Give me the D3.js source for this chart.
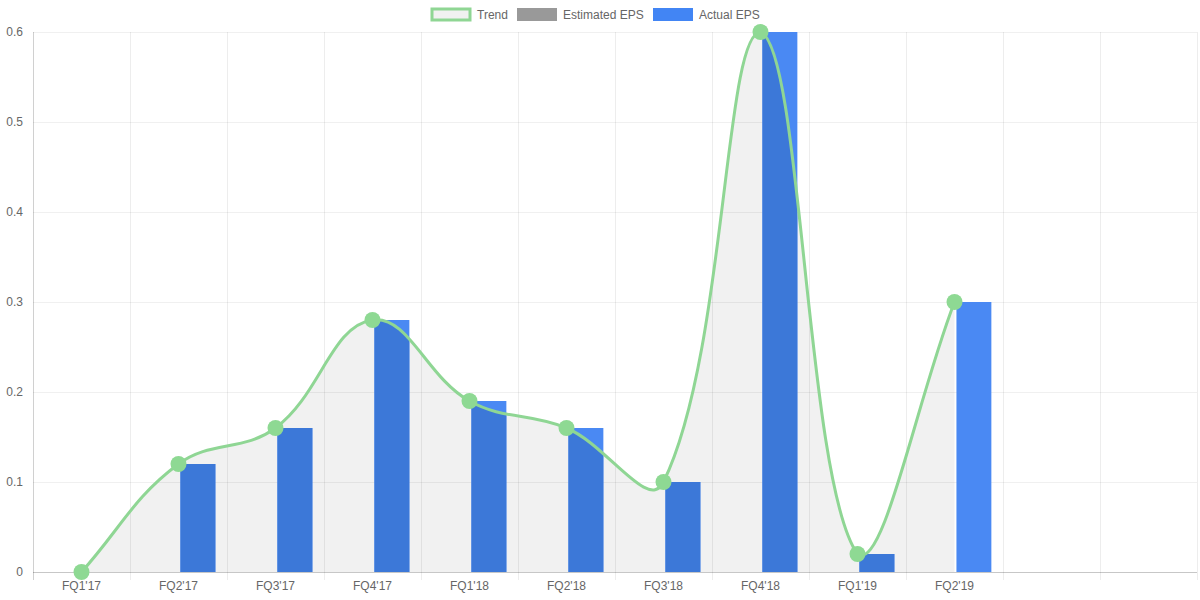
<!DOCTYPE html>
<html><head><meta charset="utf-8">
<script src="https://cdn.jsdelivr.net/npm/d3@7/dist/d3.min.js"></script>
<style>body{margin:0;background:#fff}svg{display:block}text{font-family:"Liberation Sans",Arial,sans-serif}</style>
</head><body><svg id="c" width="1200" height="600"></svg>
<script>
const categories = ["FQ1'17","FQ2'17","FQ3'17","FQ4'17","FQ1'18","FQ2'18","FQ3'18","FQ4'18","FQ1'19","FQ2'19","",""];
const trend = [0, 0.12, 0.16, 0.28, 0.19, 0.16, 0.10, 0.60, 0.02, 0.30];
const estimatedEPS = [null,null,null,null,null,null,null,null,null,null];
const actualEPS = [0, 0.12, 0.16, 0.28, 0.19, 0.16, 0.10, 0.60, 0.02, 0.30];
const yTicks = [0,0.1,0.2,0.3,0.4,0.5,0.6];

const svg = d3.select("#c");
const L=33,R=1197,T=32,B=572;
const x = d3.scaleBand().domain(d3.range(categories.length)).range([L,R]);
const y = d3.scaleLinear().domain([0,0.6]).range([B,T]);
const cx = i => x(i)+x.bandwidth()/2;
const group = d3.scaleBand().domain([0,1]).range([0,x.bandwidth()*0.8]);
const barW = group.bandwidth()*0.9;

// grid
const g = svg.append("g");
g.selectAll(".vg").data(d3.range(categories.length+1)).join("line")
 .attr("x1",i=>L+i*x.step()+0.5).attr("x2",i=>L+i*x.step()+0.5)
 .attr("y1",T).attr("y2",B+8).attr("stroke","rgba(0,0,0,0.07)");
g.selectAll(".hg").data(yTicks).join("line")
 .attr("x1",L).attr("x2",R).attr("y1",d=>y(d)+0.5).attr("y2",d=>y(d)+0.5)
 .attr("stroke",d=>d===0?"rgba(0,0,0,0.22)":"rgba(0,0,0,0.06)");
g.append("line").attr("x1",L+0.5).attr("x2",L+0.5).attr("y1",T).attr("y2",B+8).attr("stroke","rgba(0,0,0,0.12)");

// spline (Chart.js style)
const pts = trend.map((v,i)=>({x:cx(i),y:y(v)}));
const t=0.4;
const cps = pts.map((p,i)=>{
  const prev = pts[i-1]||p, next = pts[i+1]||p;
  const d01=Math.hypot(p.x-prev.x,p.y-prev.y), d12=Math.hypot(next.x-p.x,next.y-p.y);
  let s01=d01/(d01+d12), s12=d12/(d01+d12);
  if(isNaN(s01))s01=0; if(isNaN(s12))s12=0;
  const fa=t*s01, fb=t*s12;
  const c = (v,lo,hi)=>Math.max(lo,Math.min(hi,v));
  return {px:p.x-fa*(next.x-prev.x), py:c(p.y-fa*(next.y-prev.y),T,B), nx:p.x+fb*(next.x-prev.x), ny:c(p.y+fb*(next.y-prev.y),T,B)};
});
const lp = d3.path();
lp.moveTo(pts[0].x,pts[0].y);
for(let i=1;i<pts.length;i++){lp.bezierCurveTo(cps[i-1].nx,cps[i-1].ny,cps[i].px,cps[i].py,pts[i].x,pts[i].y);}
const lineD = lp.toString();
const areaD = lineD + `L${pts[pts.length-1].x},${B}L${pts[0].x},${B}Z`;

svg.append("defs").append("clipPath").attr("id","ac").append("path").attr("d",areaD);
svg.append("path").attr("d",areaD).attr("fill","rgba(0,0,0,0.055)");

// bars
const drawBars=(sel,col)=>sel.selectAll("rect").data(actualEPS.map((v,i)=>({v,i})).filter(d=>d.v)).join("rect")
 .attr("x",d=>x(d.i)+x.bandwidth()*0.1+group(1)+(group.bandwidth()-barW)/2)
 .attr("width",barW).attr("y",d=>y(d.v)).attr("height",d=>B-y(d.v)).attr("fill",col);
drawBars(svg.append("g"),"#4a89f3");
drawBars(svg.append("g").attr("clip-path","url(#ac)"),"#3c78d8");

svg.append("path").attr("d",lineD).attr("fill","none").attr("stroke","#8fd694").attr("stroke-width",3);
svg.selectAll(".pt").data(pts).join("circle").attr("cx",d=>d.x).attr("cy",d=>d.y).attr("r",8).attr("fill","#8ed993");

// axes labels
svg.selectAll(".yl").data(yTicks).join("text").attr("x",L-10).attr("y",d=>y(d)+4).attr("text-anchor","end")
 .attr("font-size",12).attr("fill","#666").text(d=>d);
svg.selectAll(".xl").data(categories).join("text").attr("x",(d,i)=>cx(i)).attr("y",B+18).attr("text-anchor","middle")
 .attr("font-size",12).attr("fill","#666").text(d=>d);

// legend
const lg=svg.append("g").attr("font-size",12).attr("fill","#666");
lg.append("rect").attr("x",432).attr("y",9).attr("width",38).attr("height",11).attr("fill","#f1f1f1").attr("stroke","#8fd694").attr("stroke-width",3);
lg.append("text").attr("x",477).attr("y",19).text("Trend");
lg.append("rect").attr("x",517).attr("y",8).attr("width",40).attr("height",13).attr("fill","#999");
lg.append("text").attr("x",563).attr("y",19).text("Estimated EPS");
lg.append("rect").attr("x",653).attr("y",8).attr("width",40).attr("height",13).attr("fill","#4285f4");
lg.append("text").attr("x",699).attr("y",19).text("Actual EPS");
</script></body></html>
